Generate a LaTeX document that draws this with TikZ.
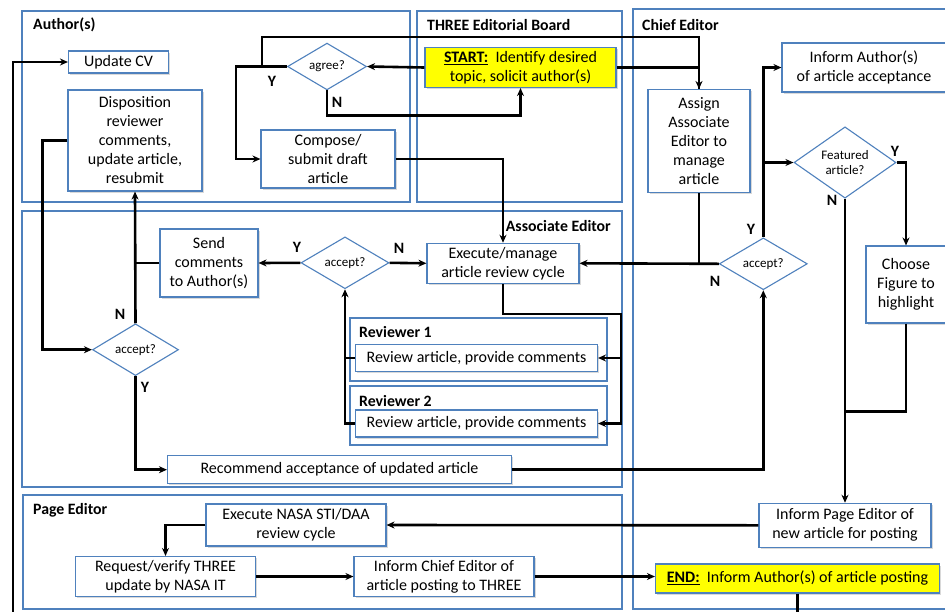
\documentclass[tikz,border=0pt]{standalone}
\usepackage{fontspec}
\setmainfont{Carlito}
\usepackage{tikz}
\usetikzlibrary{arrows.meta,shapes.geometric,shadows}

\definecolor{laneblue}{RGB}{79,129,189}
\definecolor{startyellow}{RGB}{255,255,0}

\begin{document}
\begin{tikzpicture}[x=1pt,y=-1pt]

	\tikzstyle lane=[draw=laneblue, line width=1.1pt];
	\tikzstyle lane title=[font=\fontsize{15.8}{19}\selectfont\bfseries, inner sep=0pt];
	\tikzstyle box=[draw=laneblue, line width=1.1pt, fill=white, align=center, inner sep=1pt,
		font=\fontsize{16}{19}\selectfont,
		drop shadow={shadow xshift=1.5pt, shadow yshift=-1.5pt, opacity=.25, fill=black!60}];
	\tikzstyle start box=[box, fill=startyellow];
	\tikzstyle decision=[draw=laneblue, line width=1.1pt, fill=white, shape=diamond, inner sep=0pt,
		align=center, font=\fontsize{13}{15}\selectfont];
	\tikzstyle flow=[line width=2.6pt];
	\tikzstyle flow arrow=[flow, -{Stealth[length=8pt,width=7pt]}];
	\tikzstyle answer=[font=\fontsize{15.8}{19}\selectfont\bfseries, inner sep=0pt];

	\useasboundingbox (0,0) rectangle (945,611);
	\clip (0,0) rectangle (945,611);

	% swim lanes
	\draw[lane] (22,11) rectangle (410,202);
	\draw[lane] (417,11) rectangle (622,202);
	\draw[lane] (633,9) rectangle (960,609);
	\draw[lane] (22,211) rectangle (622,487);
	\draw[lane] (23,495) rectangle (622,609);
	\draw[lane] (350,318) rectangle (607,381);
	\draw[lane] (350,386) rectangle (607,445);

	\node[lane title, anchor=west] (authors) at (33,25) {Author(s)};
	\node[lane title, anchor=west] (board) at (427,25) {THREE Editorial Board};
	\node[lane title, anchor=west] (chief) at (642,25) {Chief Editor};
	\node[lane title, anchor=east] (assoc) at (611,226) {Associate Editor};
	\node[lane title, anchor=west] (page) at (33,510) {Page Editor};
	\node[lane title, anchor=west] (revtitle1) at (359,332) {Reviewer 1};
	\node[lane title, anchor=west] (revtitle2) at (359,401) {Reviewer 2};

	% Author(s)
	\node[box, minimum width=100, minimum height=22] (updcv) at (118.5,62) {Update CV};
	\node[box, minimum width=134, minimum height=101] (disp) at (135,140.5)
		{Disposition\\reviewer\\comments,\\update article,\\resubmit};
	\node[decision, minimum width=79, minimum height=46] (agree) at (327,66.5) {agree?};
	\node[box, minimum width=134, minimum height=58] (compose) at (328,159)
		{Compose/\\submit draft\\article};

	% THREE Editorial Board
	\node[start box, minimum width=191, minimum height=40] (startn) at (520.5,67.5)
		{\underline{\textbf{START:}}\ \ Identify desired\\topic, solicit author(s)};

	% Chief Editor
	\node[box, minimum width=102, minimum height=103] (assign) at (699,141)
		{Assign\\Associate\\Editor to\\manage\\article};
	\node[box, minimum width=164, minimum height=49] (infacc) at (864,67.5)
		{Inform Author(s)\\of article acceptance};
	\node[decision, minimum width=102, minimum height=57] (featured) at (845,162.5)
		{Featured\\article?};
	\node[box, minimum width=80, minimum height=77] (choose) at (906,284.5)
		{Choose\\Figure to\\highlight};
	\node[decision, minimum width=88, minimum height=49] (accchief) at (763.3,263.8) {accept?};
	\node[box, minimum width=172, minimum height=44] (ipe) at (845,525.3)
		{Inform Page Editor of\\new article for posting};
	\node[start box, minimum width=284, minimum height=29] (endn) at (797.5,578.5)
		{\underline{\textbf{END:}}\ \ Inform Author(s) of article posting};

	% Associate Editor
	\node[box, minimum width=152, minimum height=40] (execrev) at (503,263.3)
		{Execute/manage\\article review cycle};
	\node[decision, minimum width=88, minimum height=49] (accassoc) at (345,262.8) {accept?};
	\node[box, minimum width=98, minimum height=68] (send) at (209,263)
		{Send\\comments\\to Author(s)};
	\node[decision, minimum width=86, minimum height=47] (accauth) at (135.5,349.7) {accept?};
	\node[box, minimum width=344, minimum height=28] (recom) at (339.5,469.7)
		{Recommend acceptance of updated article};
	\node[box, minimum width=242, minimum height=27] (rev1) at (476.5,358)
		{Review article, provide comments};
	\node[box, minimum width=242, minimum height=27] (rev2) at (476.5,423.5)
		{Review article, provide comments};

	% Page Editor
	\node[box, minimum width=180, minimum height=42] (nasa) at (296,525)
		{Execute NASA STI/DAA\\review cycle};
	\node[box, minimum width=180, minimum height=40] (req) at (165.5,576.5)
		{Request/verify THREE\\update by NASA IT};
	\node[box, minimum width=180, minimum height=40] (icp) at (444,576.5)
		{Inform Chief Editor of\\article posting to THREE};

	% loop below the page
	\coordinate (loopcorner) at (13,640);

	% connectors
	\draw[flow arrow] (startn.west) -- (agree.east);
	\draw[flow arrow] (agree.west) -- ++(-51,0) |- (compose.west);
	\draw[flow arrow] ([xshift=-25]agree.west) -- ++(0,-29.5) -| (assign.north);
	\draw[flow] (startn.east) -| (assign.north);
	\draw[flow arrow] (agree.south) -- ++(0,25) -| (startn.south);
	\draw[flow arrow] (compose.east) -| (execrev.north);

	\draw[flow arrow] (accassoc.east) -- (execrev.west);
	\draw[flow arrow] (accassoc.west) -- (send.east);
	\draw[flow] (send.west) -- (send.west -| disp.south);
	\draw[flow arrow] (accauth.north) -- (disp.south);
	\draw[flow arrow] (disp.west) -- ++(-25,0) |- (accauth.west);
	\draw[flow arrow] (accauth.south) |- (recom.west);
	\draw[flow arrow] (recom.east) -| (accchief.south);
	\draw[flow arrow] (execrev.south) -- ++(0,30) -| ([xshift=23]rev2.east) -- (rev2.east);
	\draw[flow arrow] ([xshift=23]rev1.east) -- (rev1.east);
	\draw[flow arrow] (rev2.west) -| (accassoc.south);
	\draw[flow] (rev1.west) -- (rev1.west -| accassoc.south);

	\draw[flow arrow] (accchief.west) -- (execrev.east);
	\draw[flow] (assign.south) -- (assign.south |- accchief.west);
	\draw[flow arrow] (accchief.north) |- (infacc.west);
	\draw[flow arrow] (accchief.north |- featured.west) -- (featured.west);
	\draw[flow arrow] (featured.east) -| (choose.north);
	\draw[flow arrow] (featured.south) -- (ipe.north);
	\draw[flow] (choose.south) -- ++(0,88) -- ++(-61,0);

	\draw[flow arrow] (ipe.west) -- (nasa.east);
	\draw[flow arrow] (nasa.west) -| (req.north);
	\draw[flow arrow] (req.east) -- (icp.west);
	\draw[flow arrow] (icp.east) -- (icp.east -| endn.west);
	\draw[flow arrow] (endn.south) |- (loopcorner) |- (updcv.west);

	% Y / N
	\node[answer] (agreeY) at (272,81) {Y};
	\node[answer] (agreeN) at (337,102) {N};
	\node[answer] (assocY) at (297,247) {Y};
	\node[answer] (assocN) at (399,248) {N};
	\node[answer] (authN) at (120,314) {N};
	\node[answer] (authY) at (145,387) {Y};
	\node[answer] (chiefY) at (751,229) {Y};
	\node[answer] (chiefN) at (715,281) {N};
	\node[answer] (featY) at (895,151) {Y};
	\node[answer] (featN) at (832,200) {N};

\end{tikzpicture}
\end{document}
